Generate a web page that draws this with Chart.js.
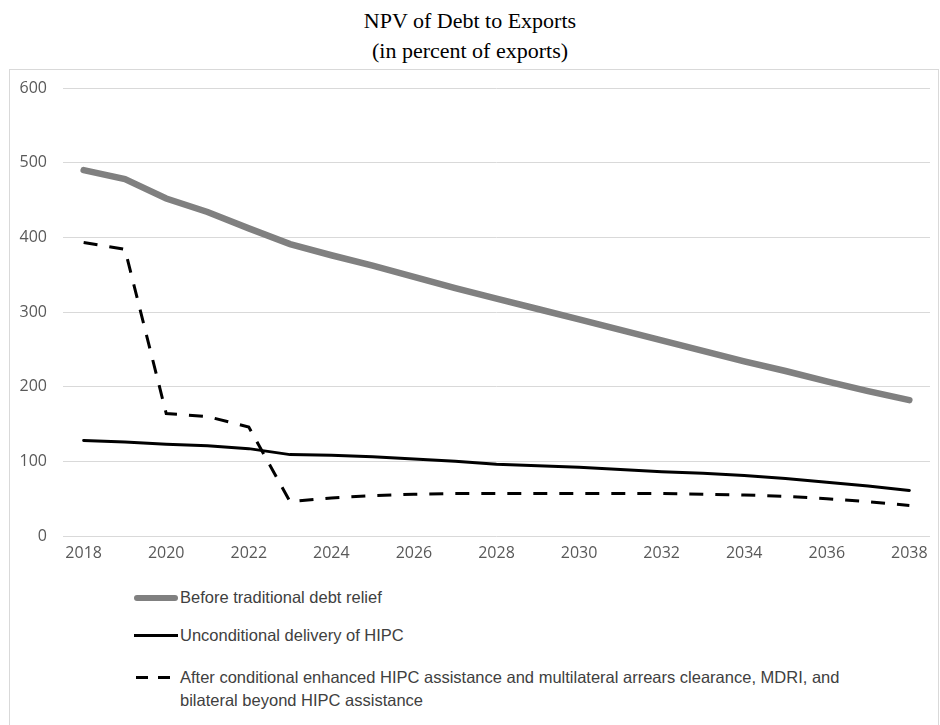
<!DOCTYPE html>
<html>
<head>
<meta charset="utf-8">
<script src="https://cdn.jsdelivr.net/npm/chart.js@4.4.1/dist/chart.umd.min.js"></script>
<style>
  body { margin: 0; background: #fff; width: 940px; height: 725px; overflow: hidden; position: relative; }
  #title { position: absolute; left: 0; top: 6px; width: 940px; text-align: center;
           font-family: "Liberation Serif", "Times New Roman", serif; font-size: 22px; line-height: 30px; color: #000; }
  #box { position: absolute; left: 9px; top: 69px; width: 928px; height: 670px; border: 1px solid #d9d9d9; }
  #wrap { position: absolute; left: 0; top: 0; width: 928px; height: 500px; }
  .leg { position: absolute; left: 170px; font-family: "Liberation Sans", sans-serif;
         font-size: 16.5px; color: #404040; line-height: 23px; }
  .swatch { position: absolute; left: -46px; top: 11px; width: 44px; }
  .dash { position: absolute; top: 10px; width: 12px; border-top: 3px solid #000; }
</style>
</head>
<body>
<div id="title">NPV of Debt to Exports<br>(in percent of exports)</div>
<div id="box">
  <div id="wrap"><canvas id="npvChart"></canvas></div>
  <div class="leg" style="top:516px"><div class="swatch" style="border-top:6px solid #808080;border-radius:3px;top:9px"></div>Before traditional debt relief</div>
  <div class="leg" style="top:554px"><div class="swatch" style="border-top:3px solid #000;top:10px"></div>Unconditional delivery of HIPC</div>
  <div class="leg" style="top:596px"><div class="dash" style="left:-44px"></div><div class="dash" style="left:-22px"></div>After conditional enhanced HIPC assistance and multilateral arrears clearance, MDRI, and<br>bilateral beyond HIPC assistance</div>
</div>
<script>
const years = ['2018','2019','2020','2021','2022','2023','2024','2025','2026','2027','2028',
               '2029','2030','2031','2032','2033','2034','2035','2036','2037','2038'];
const beforeRelief = [490, 478, 452, 434, 412, 391, 376, 362, 347, 332, 318,
                      304, 290, 276, 262, 248, 234, 221, 207, 194, 182];
const unconditionalHipc = [128, 126, 123, 121, 117, 109, 108, 106, 103, 100, 96,
                           94, 92, 89, 86, 84, 81, 77, 72, 67, 61];
const afterConditional = [393, 384, 164, 160, 146, 46, 51, 54, 56, 57, 57,
                          57, 57, 57, 57, 56, 55, 53, 50, 46, 41];
const yTicks = [0, 100, 200, 300, 400, 500, 600];

const ctx = document.getElementById('npvChart').getContext('2d');
new Chart(ctx, {
  type: 'line',
  data: {
    labels: years,
    datasets: [
      { label: 'Before traditional debt relief', data: beforeRelief, borderColor: '#808080',
        borderWidth: 6.5, borderCapStyle: 'round', pointRadius: 0, tension: 0 },
      { label: 'Unconditional delivery of HIPC', data: unconditionalHipc, borderColor: '#000',
        borderWidth: 3, borderCapStyle: 'round', pointRadius: 0, tension: 0 },
      { label: 'After conditional enhanced HIPC assistance', data: afterConditional, borderColor: '#000',
        borderWidth: 3, borderDash: [14, 12], pointRadius: 0, tension: 0 }
    ]
  },
  options: {
    responsive: true,
    maintainAspectRatio: false,
    animation: false,
    layout: { padding: { left: 0, right: 8, top: 18, bottom: 0 } },
    plugins: { legend: { display: false }, tooltip: { enabled: false } },
    scales: {
      x: {
        offset: true,
        grid: { display: false, drawTicks: false },
        border: { display: false },
        ticks: {
          autoSkip: false, maxRotation: 0, padding: 8, color: '#595959',
          font: { family: 'Open Sans', size: 16 },
          callback: function (v, i) { return i % 2 === 0 ? years[i] : ''; }
        },
        afterFit: s => { s.height = 34; }
      },
      y: {
        min: 0, max: 600,
        afterBuildTicks: s => { s.ticks = yTicks.map(v => ({ value: v })); },
        grid: { color: '#d9d9d9', lineWidth: 1, drawTicks: false },
        border: { display: false },
        ticks: { padding: 16, color: '#595959', font: { family: 'Open Sans', size: 16 } },
        afterFit: s => { s.width = 53; s.paddingTop = 0; s.paddingBottom = 0; }
      }
    }
  }
});
</script>
</body>
</html>
